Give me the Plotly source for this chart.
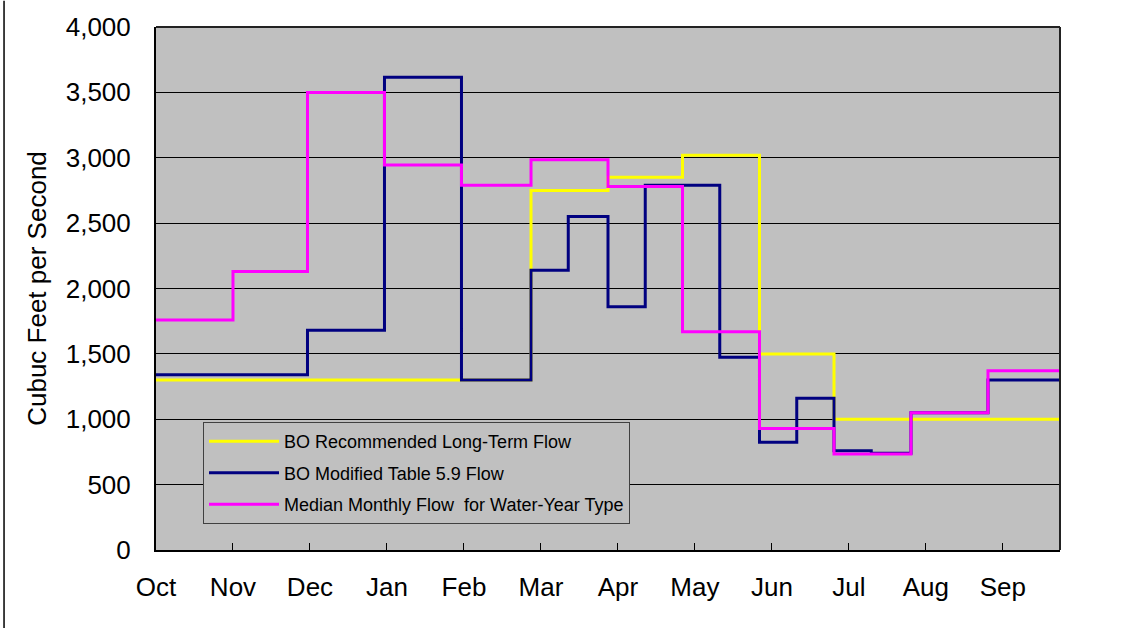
import plotly.graph_objects as go

# Day-of-water-year index (Oct 1 = 0) for tick marks and labels
tick_days = [0, 31, 62, 93, 124, 155, 186, 217, 248, 279, 310, 341]
tick_labels = ["Oct", "Nov", "Dec", "Jan", "Feb", "Mar", "Apr", "May", "Jun", "Jul", "Aug", "Sep"]
last_day = 364

# BO Recommended Long-Term Flow (step starts, cfs)
rec_days = [0, 151, 182, 212, 243, 273]
rec_vals = [1300, 2750, 2850, 3020, 1500, 1000]

# BO Modified Table 5.9 Flow
mod_days = [0, 61, 92, 123, 151, 166, 182, 197, 227, 243, 258, 273, 288, 304, 335]
mod_vals = [1340, 1680, 3615, 1300, 2140, 2550, 1860, 2790, 1475, 825, 1160, 760, 740, 1050, 1300]

# Median Monthly Flow for Water-Year Type
med_days = [0, 31, 61, 92, 123, 151, 182, 212, 243, 273, 304, 335]
med_vals = [1760, 2130, 3500, 2945, 2790, 2985, 2780, 1670, 930, 735, 1050, 1370]

series = [
    ("BO Recommended Long-Term Flow", rec_days, rec_vals, "#FFFF00"),
    ("BO Modified Table 5.9 Flow", mod_days, mod_vals, "#000080"),
    ("Median Monthly Flow  for Water-Year Type", med_days, med_vals, "#FF00FF"),
]

FONT = "Liberation Sans, Arial, sans-serif"

fig = go.Figure()
for i, (name, days, vals, color) in enumerate(series):
    fig.add_trace(go.Scatter(
        x=list(days) + [last_day],
        y=list(vals) + [vals[-1]],
        mode="lines",
        line=dict(color=color, width=3, shape="hv"),
        name=name,
        legendgroup=f"g{i}",
    ))

fig.update_layout(
    width=1127, height=628,
    margin=dict(l=156, r=67, t=22, b=78),
    paper_bgcolor="white",
    plot_bgcolor="#C0C0C0",
    font=dict(family=FONT, color="black", size=26),
    showlegend=True,
    legend=dict(
        x=0.052, y=0.2445, xanchor="left", yanchor="top",
        bgcolor="#C0C0C0", bordercolor="#404040", borderwidth=1,
        font=dict(family=FONT, size=18, color="black"),
        traceorder="grouped", tracegroupgap=5,
        itemwidth=70,
    ),
    xaxis=dict(
        range=[0, last_day],
        tickmode="array", tickvals=tick_days, ticktext=tick_labels,
        ticks="inside", ticklen=7, tickcolor="black", tickwidth=1,
        showgrid=False, zeroline=False,
        showline=True, linecolor="black", linewidth=2,
        tickfont=dict(size=26),
        ticklabelstandoff=13,
    ),
    yaxis=dict(
        range=[0, 4000], dtick=500, tickformat=",d",
        ticks="inside", ticklen=7, tickcolor="black", tickwidth=1,
        showgrid=True, gridcolor="black", gridwidth=1,
        zeroline=False,
        showline=True, linecolor="black", linewidth=2,
        tickfont=dict(size=26),
        ticklabelstandoff=18,
        title=dict(text="Cubuc Feet per Second", font=dict(size=26), standoff=12),
    ),
    shapes=[
        dict(type="line", xref="paper", yref="paper", x0=1, x1=1, y0=0, y1=1,
             line=dict(color="#222222", width=2), layer="above"),
        dict(type="line", xref="paper", yref="paper", x0=0, x1=1, y0=1, y1=1,
             line=dict(color="#222222", width=2), layer="above"),
        dict(type="line", xref="paper", yref="paper", x0=-0.1681, x1=-0.1681,
             y0=-0.16, y1=1.05, line=dict(color="black", width=1.5)),
    ],
)

fig.write_html("out.html")
